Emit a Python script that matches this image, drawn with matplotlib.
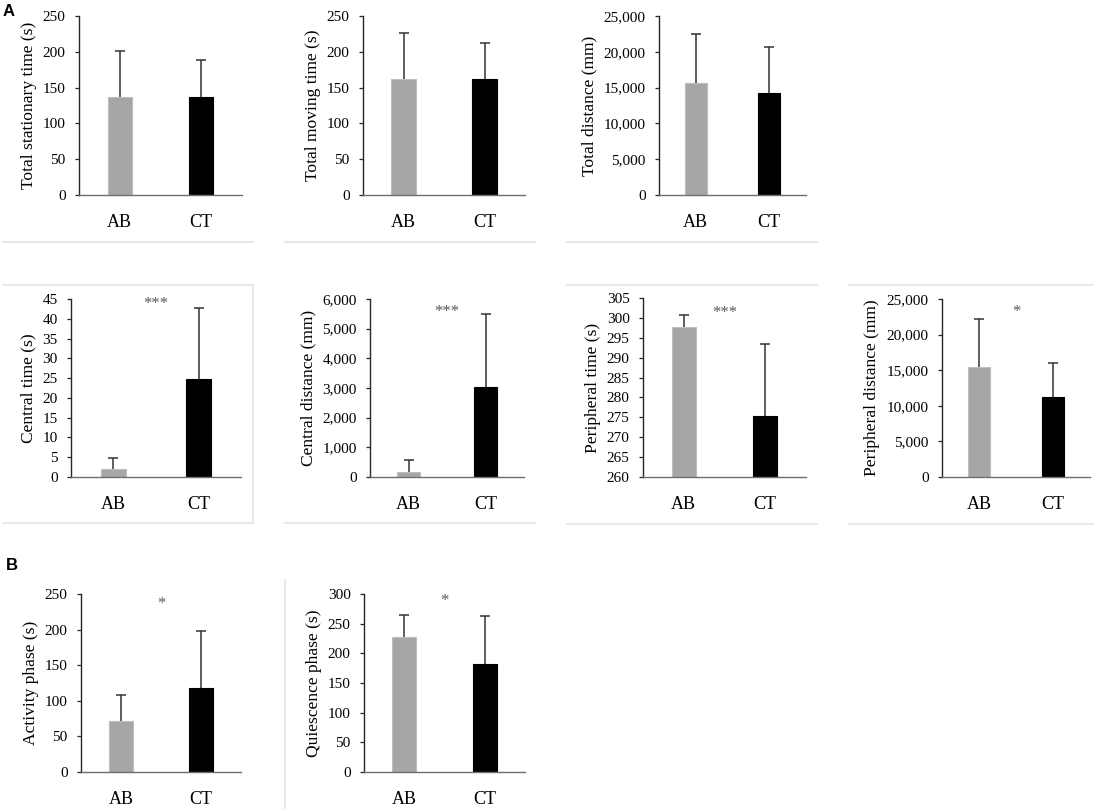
import matplotlib
matplotlib.use("Agg")
import matplotlib.pyplot as plt
from matplotlib.lines import Line2D
from matplotlib.ticker import FuncFormatter, MultipleLocator

plt.rcParams['font.family'] = ['Liberation Serif', 'DejaVu Serif']

# ── data ────────────────────────────────────────────────────────────────
groups = ["AB", "CT"]

ylabels = ["Total stationary time (s)", "Total moving time (s)", "Total distance (mm)",
           "Central time (s)", "Central distance (mm)", "Peripheral time (s)",
           "Peripheral distance (mm)", "Activity phase (s)", "Quiescence phase (s)"]

means = [[137.3, 137.3], [162.5, 161.5], [15600, 14290],
         [1.9, 24.7], [170, 3045], [297.8, 275.3],
         [15385, 11257], [72.0, 117.3], [227.8, 182.7]]

sds = [[63.8, 51.2], [63.3, 51.3], [6890, 6430],
       [2.8, 18.1], [390, 2435], [2.9, 18.1],
       [6800, 4690], [36.6, 80.1], [36.7, 79.5]]

yranges = [(0, 250, 50), (0, 250, 50), (0, 25000, 5000),
           (0, 45, 5), (0, 6000, 1000), (260, 305, 5),
           (0, 25000, 5000), (0, 250, 50), (0, 300, 50)]

stars = [None, None, None, "***", "***", "***", "*", "*", "*"]
star_y = [None, None, None, 0.97, 0.925, 0.915, 0.925, 0.945, 0.96]

# pixel boxes (left, top, right, bottom) of each plot area
boxes = [(79, 16, 242, 195), (363, 16, 525, 195), (659, 16, 806, 195),
         (71, 299, 241, 477), (370, 299, 524, 477), (643, 298, 806, 477),
         (942, 299, 1090, 477), (81, 594, 241, 772), (364, 594, 525, 772)]

W, H = 1094, 809
fig = plt.figure(figsize=(W / 100, H / 100), dpi=100)

bar_colors = ["#A6A6A6", "#000000"]
edge_colors = ["#BDBDBD", "#000000"]


def thousands(v, pos):
    return f"{int(v):,}"


for i in range(9):
    l, t, r, b = boxes[i]
    ax = fig.add_axes([l / W, 1 - b / H, (r - l) / W, (b - t) / H])
    lo, hi, step = yranges[i]
    x = [0, 1]
    heights = [m - lo for m in means[i]]
    ax.bar(x, heights, width=0.3, bottom=lo, color=bar_colors,
           edgecolor=edge_colors, linewidth=0.8, zorder=2)
    eb = ax.errorbar(x, means[i], yerr=[[0, 0], sds[i]], fmt='none',
                     ecolor='#333333', elinewidth=1.1, capsize=3.6, capthick=1.1, zorder=3)
    eb[1][0].set_visible(False)   # hide the lower cap (sits on bar top)
    ax.set_xlim(-0.5, 1.5)
    ax.set_ylim(lo, hi)
    ax.yaxis.set_major_locator(MultipleLocator(step))
    if hi >= 1000:
        ax.yaxis.set_major_formatter(FuncFormatter(thousands))
    ax.set_xticks(x)
    ax.set_xticklabels(groups)
    ax.tick_params(axis='x', length=0, pad=14, labelsize=13)
    ax.tick_params(axis='y', length=3.1, width=0.9, color='#262626', pad=6.5, labelsize=11)
    for s in ['top', 'right']:
        ax.spines[s].set_visible(False)
    ax.spines['left'].set_color('#262626')
    ax.spines['left'].set_linewidth(1.0)
    ax.spines['bottom'].set_color('#6E6E6E')
    ax.spines['bottom'].set_linewidth(1.0)
    ax.set_ylabel(ylabels[i], fontsize=12.6, labelpad=4.5)
    if stars[i]:
        ax.text(0.5, star_y[i], stars[i], transform=ax.transAxes, ha='center',
                va='center', fontsize=12, color='#595959')

# panel letters
fig.text(3 / W, 1 - 11.5 / H, "A", fontsize=12, fontweight='bold',
         family='Liberation Sans', va='center', ha='left')
fig.text(6 / W, 1 - 566 / H, "B", fontsize=12, fontweight='bold',
         family='Liberation Sans', va='center', ha='left')

# light frame lines around the panels
segs = [
    ((3, 242), (253, 242)), ((285, 242), (535, 242)), ((567, 242), (817, 242)),
    ((3, 285), (253, 285)), ((253, 285), (253, 523)), ((3, 523), (253, 523)),
    ((285, 523), (535, 523)),
    ((567, 285), (817, 285)), ((567, 524), (817, 524)),
    ((849, 285), (1094, 285)), ((849, 524), (1094, 524)),
    ((285, 580), (285, 809)),
]
for (x0, y0), (x1, y1) in segs:
    fig.add_artist(Line2D([x0 / W, x1 / W], [1 - y0 / H, 1 - y1 / H],
                          color='#E8E8E8', linewidth=1.5))

fig.savefig("out.png", dpi=100)
